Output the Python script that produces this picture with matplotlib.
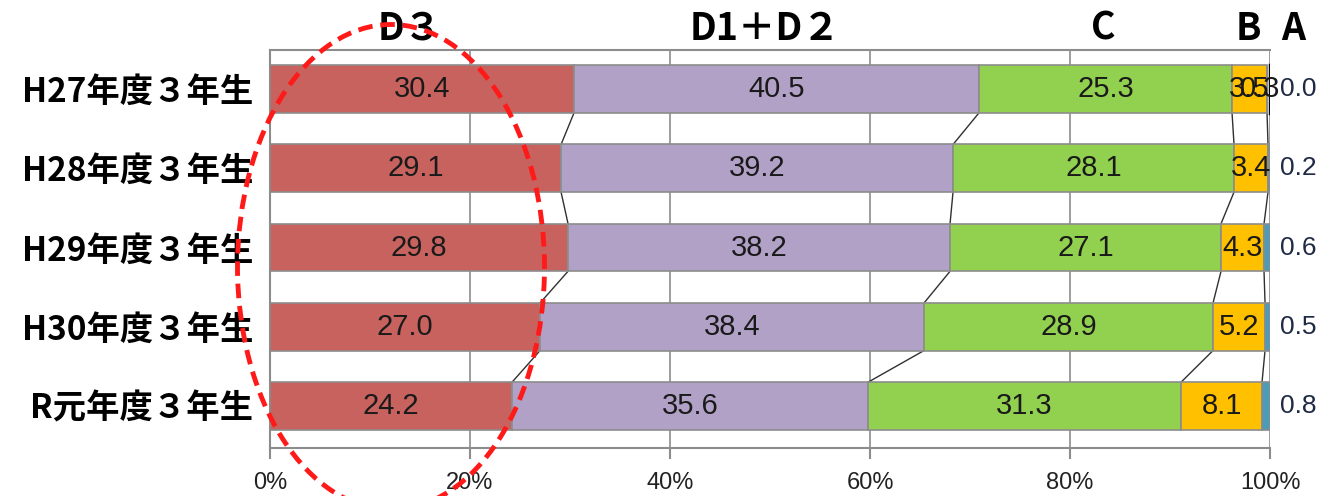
import matplotlib.pyplot as plt
from matplotlib.patches import Ellipse
import numpy as np

plt.rcParams['font.family'] = ['Noto Sans CJK JP', 'DejaVu Sans']

years = ["H27年度３年生", "H28年度３年生", "H29年度３年生", "H30年度３年生", "R元年度３年生"]
cats = ["D３", "D1＋D２", "C", "B", "A"]
d3 = [30.4, 29.1, 29.8, 27.0, 24.2]
d12 = [40.5, 39.2, 38.2, 38.4, 35.6]
c = [25.3, 28.1, 27.1, 28.9, 31.3]
b = [3.5, 3.4, 4.3, 5.2, 8.1]
a = [0.0, 0.2, 0.6, 0.5, 0.8]

colors = ["#C8625E", "#B2A1C7", "#92D050", "#FFC000", "#4A9DB8"]
series = [d3, d12, c, b, a]

fig = plt.figure(figsize=(13.18, 4.96), dpi=100)
ax = fig.add_axes([0.2049, 0.0968, 0.7587, 0.802])

y = np.arange(len(years))
h = 0.6
left = np.zeros(len(years))
bounds = []
for vals, col in zip(series, colors):
    vals = np.array(vals)
    ax.barh(y, vals, left=left, height=h, color=col, edgecolor="#8C8C8C",
            linewidth=1.2, zorder=3)
    left = left + vals
    bounds.append(left.copy())

# series lines between bars
for bd in bounds[:-1]:
    for i in range(len(years) - 1):
        ax.plot([bd[i], bd[i + 1]], [y[i] + h / 2, y[i + 1] - h / 2],
                color="#303030", lw=1, zorder=2)
ax.plot([100, 100], [-h / 2, h / 2], color="black", lw=2.5, zorder=4)

lab = dict(fontsize=21, family=["Liberation Sans Narrow", "Liberation Sans"],
           color="#1a1a1a", va="center", ha="center", zorder=5)
cum = np.zeros(len(years))
for vals in series[:4]:
    for i, v in enumerate(vals):
        ax.text(cum[i] + v / 2, y[i], f"{v:.1f}", **lab)
    cum = cum + np.array(vals)
# overlapping label on top row, as in the original
ax.text(99.0, y[0], "0.3", **lab)
for i, v in enumerate(a):
    ax.text(101.0, y[i], f"{v:.1f}", fontsize=19,
            family=["Liberation Sans Narrow", "Liberation Sans"],
            color="#1F2A44", va="center", ha="left", zorder=5)

ax.set_xlim(0, 100)
ax.set_ylim(4.53, -0.49)
ax.set_xticks([0, 20, 40, 60, 80, 100])
ax.set_xticklabels(["0%", "20%", "40%", "60%", "80%", "100%"],
                   fontsize=17, family=["Liberation Sans Narrow", "Liberation Sans"],
                   color="#222222")
ax.set_yticks(y)
ax.set_yticklabels(years, fontsize=24, fontweight="bold")
ax.tick_params(axis="y", length=0, pad=12)
ax.tick_params(axis="x", length=8, width=1.5, color="#8C8C8C", pad=9)
ax.grid(axis="x", color="#8C8C8C", lw=1.2, zorder=0)
for s in ["top", "left", "bottom"]:
    ax.spines[s].set_color("#8C8C8C")
    ax.spines[s].set_linewidth(1.5)
ax.spines["right"].set_visible(False)

# category headers
hx = [410, 765, 1103, 1248, 1293]
for t, px in zip(cats, hx):
    fig.text(px / 1318, 1 - 28 / 496, t, fontsize=27, fontweight="bold",
             ha="center", va="center")

ell = Ellipse((391 / 1318, 1 - 267 / 496), 307 / 1318, 485 / 496,
              transform=fig.transFigure, fill=False, edgecolor="#FF1A1A",
              lw=3.5, linestyle=(0, (3, 1.6)), zorder=10)
fig.patches.append(ell)

fig.savefig("out.png", dpi=100)
